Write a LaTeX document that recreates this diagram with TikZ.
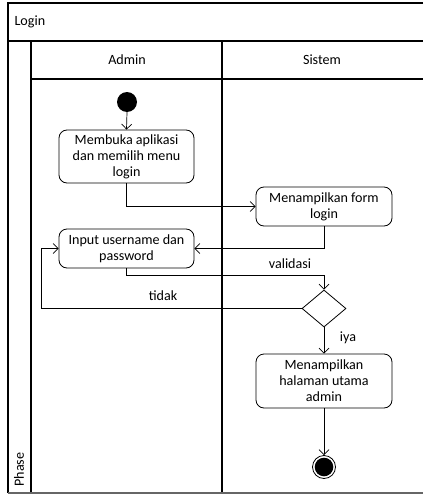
\documentclass[tikz,border=0pt]{standalone}
\usepackage{fontspec}
\setmainfont{Carlito}
\usetikzlibrary{arrows.meta,shapes.geometric}
\begin{document}
\begin{tikzpicture}[x=1pt,y=-1pt,
  frame/.style={line width=1.3pt,draw=black},
  act/.style={draw,rounded corners=8pt,line width=0.8pt,align=center,font=\fontsize{14.1}{16}\selectfont,inner sep=0pt},
  flow/.style={line width=0.7pt,-{Straight Barb[length=5pt,width=10pt]}},
  lbl/.style={font=\fontsize{14.1}{15}\selectfont},
  dec/.style={draw,diamond,line width=0.8pt,minimum width=44pt,minimum height=37pt,inner sep=0pt,aspect=1.2}
]
\useasboundingbox (0,0) rectangle (423,495);
% swimlane frame
\draw[frame] (423,3) -- (8,3) -- (8,493);
\draw[frame] (8,41) -- (423,41);
\draw[frame] (31,41) -- (31,493);
\draw[frame] (222,41) -- (222,493);
\draw[frame] (31,79) -- (423,79);
\draw[line width=1.3pt,draw=black!60] (8,493) -- (423,493);
\node[lbl,anchor=west] (title) at (11,22) {Login};
\node[lbl] (admin) at (127,60) {Admin};
\node[lbl] (sistem) at (322,60) {Sistem};
\node[lbl,rotate=90,anchor=west] (phase) at (19,490) {Phase};

% activities
\fill (127,102) circle (10);
\coordinate (start) at (127,112);
\node[act,minimum width=135pt,minimum height=53pt] (a1) at (126.5,156.5) {Membuka aplikasi\\dan memilih menu\\login};
\node[act,minimum width=136pt,minimum height=39pt] (a2) at (324,206.5) {Menampilkan form\\login};
\node[act,minimum width=135pt,minimum height=39pt] (a3) at (126.5,248.5) {Input username dan\\password};
\node[dec] (d) at (324,308.5) {};
\node[act,minimum width=136pt,minimum height=54pt] (a4) at (324,381) {Menampilkan\\halaman utama\\admin};
\node[circle,draw,line width=0.8pt,minimum size=23pt,inner sep=0pt] (end) at (324,467) {};
\fill (end.center) circle (9.3);

% flows
\draw[flow] (start) -- (a1.north);
\draw[flow] (a1.south) |- (a2.west);
\draw[flow] (a2.south) |- (a3.east);
\draw[flow] (a3.south) -- ++(0,7) -| (d.north);
\draw[flow] (d.west) -- (41,308.5) |- (a3.west);
\draw[flow] (d.south) -- (a4.north);
\draw[flow] (a4.south) -- (end.north);
\node[lbl] (lv) at (290,264) {validasi};
\node[lbl] (lt) at (163,296) {tidak};
\node[lbl] (ly) at (348,338) {iya};
\end{tikzpicture}
\end{document}
